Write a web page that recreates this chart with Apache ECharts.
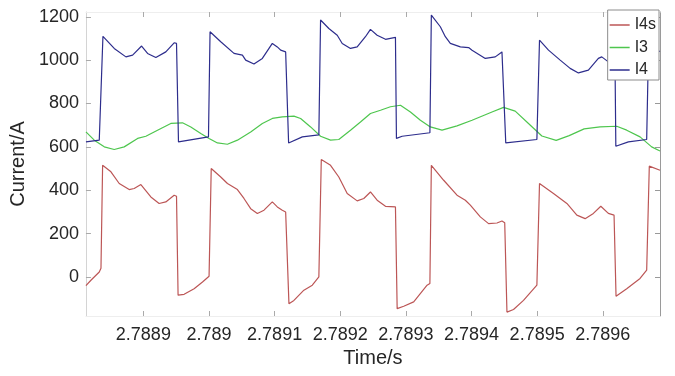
<!DOCTYPE html>
<html>
<head>
    <meta charset="utf-8">
    <title>Current</title>
    <script src="https://cdn.jsdelivr.net/npm/echarts@6/dist/echarts.min.js"></script>
    <style>
        html, body { margin: 0; padding: 0; background: #fff; }
        #chart { width: 675px; height: 376px; }
    </style>
</head>
<body>
<div id="chart"></div>
<script>
    // time (s), current (A)
    const i4s = [
        [2.7888125, -40], [2.7888201, -15], [2.7888328, 23], [2.7888354, 40], [2.7888379, 515], [2.7888395, 519],
        [2.7888506, 485], [2.7888632, 431], [2.7888784, 403], [2.7888860, 408], [2.7888962, 426], [2.7889114, 369],
        [2.7889240, 339], [2.7889342, 346], [2.7889469, 377], [2.7889505, 372], [2.7889529, -84], [2.7889621, -80],
        [2.7889773, -54], [2.7889901, -23], [2.7890001, 3], [2.7890034, 500], [2.7890057, 498], [2.7890179, 461],
        [2.7890281, 431], [2.7890433, 403], [2.7890533, 362], [2.7890635, 315], [2.7890737, 293], [2.7890838, 308],
        [2.7890965, 346], [2.7891041, 323], [2.7891117, 308], [2.7891168, 300], [2.7891198, 295], [2.7891218, -123],
        [2.7891294, -108], [2.7891446, -61], [2.7891574, -38], [2.7891674, 0], [2.7891711, 542], [2.7891723, 543],
        [2.7891852, 515], [2.7891978, 461], [2.7892106, 385], [2.7892258, 351], [2.7892359, 362], [2.7892460, 392],
        [2.7892562, 354], [2.7892689, 326], [2.7892841, 323], [2.7892867, -146], [2.7892967, -135], [2.7893119, -115],
        [2.7893323, -38], [2.7893366, -30], [2.7893388, 515], [2.7893399, 523], [2.7893576, 446], [2.7893779, 377],
        [2.7893906, 354], [2.7893982, 331], [2.7894134, 277], [2.7894260, 246], [2.7894388, 249], [2.7894464, 258],
        [2.7894506, 250], [2.7894540, -162], [2.7894640, -150], [2.7894792, -108], [2.7894996, -38], [2.7895024, -33],
        [2.7895036, 431], [2.7895046, 431], [2.7895249, 385], [2.7895453, 339], [2.7895605, 285], [2.7895731, 269],
        [2.7895857, 293], [2.7895970, 326], [2.7896085, 293], [2.7896172, 285], [2.7896202, -89], [2.7896365, -54],
        [2.7896568, -7], [2.7896669, 31], [2.7896709, 511], [2.7896720, 515], [2.7896872, 492]
    ];

    const i3 = [
        [2.7888125, 669], [2.7888252, 631], [2.7888404, 600], [2.7888556, 588], [2.7888708, 600], [2.7888912, 639],
        [2.7889038, 649], [2.7889216, 677], [2.7889418, 708], [2.7889596, 711], [2.7889723, 692], [2.7889875, 662],
        [2.7890001, 639], [2.7890129, 618], [2.7890281, 612], [2.7890433, 631], [2.7890635, 669], [2.7890813, 708],
        [2.7890965, 731], [2.7891117, 738], [2.7891294, 742], [2.7891396, 731], [2.7891548, 692], [2.7891700, 649],
        [2.7891852, 631], [2.7891978, 634], [2.7892156, 677], [2.7892308, 715], [2.7892460, 754], [2.7892613, 769],
        [2.7892765, 785], [2.7892917, 792], [2.7893069, 761], [2.7893221, 723], [2.7893373, 692], [2.7893551, 677],
        [2.7893779, 697], [2.7894008, 723], [2.7894312, 761], [2.7894488, 782], [2.7894666, 765], [2.7894868, 708],
        [2.7895072, 650], [2.7895290, 630], [2.7895488, 652], [2.7895716, 683], [2.7895959, 692], [2.7896213, 695],
        [2.7896365, 677], [2.7896568, 646], [2.7896745, 600], [2.7896872, 581]
    ];

    const i4 = [
        [2.7888125, 623], [2.7888328, 631], [2.7888354, 635], [2.7888384, 1110], [2.7888395, 1119], [2.7888556, 1054],
        [2.7888734, 1015], [2.7888836, 1023], [2.7888973, 1065], [2.7889064, 1031], [2.7889190, 1012], [2.7889342, 1038],
        [2.7889469, 1080], [2.7889505, 1077], [2.7889517, 1072], [2.7889535, 623], [2.7889992, 646], [2.7890016, 1131],
        [2.7890042, 1134], [2.7890179, 1085], [2.7890381, 1031], [2.7890509, 1023], [2.7890559, 1000], [2.7890685, 982],
        [2.7890813, 1008], [2.7890965, 1077], [2.7891041, 1061], [2.7891092, 1046], [2.7891168, 1038], [2.7891198, 1035],
        [2.7891213, 618], [2.7891422, 646], [2.7891674, 655], [2.7891700, 1185], [2.7891715, 1189], [2.7891826, 1146],
        [2.7891954, 1115], [2.7892030, 1077], [2.7892156, 1054], [2.7892258, 1061], [2.7892384, 1108], [2.7892460, 1142],
        [2.7892562, 1115], [2.7892689, 1096], [2.7892841, 1105], [2.7892856, 639], [2.7892943, 649], [2.7893366, 665],
        [2.7893388, 1208], [2.7893399, 1212], [2.7893525, 1154], [2.7893601, 1108], [2.7893677, 1077], [2.7893830, 1061],
        [2.7893956, 1058], [2.7894008, 1046], [2.7894210, 1008], [2.7894362, 1015], [2.7894464, 1038], [2.7894491, 1035],
        [2.7894522, 618], [2.7894996, 634], [2.7895036, 1092], [2.7895050, 1094], [2.7895173, 1046], [2.7895351, 1000],
        [2.7895503, 962], [2.7895629, 941], [2.7895781, 954], [2.7895933, 1008], [2.7895985, 1015], [2.7896085, 992],
        [2.7896187, 980], [2.7896199, 603], [2.7896390, 623], [2.7896669, 634], [2.7896697, 1060], [2.7896872, 1040]
    ];

    const xTicks = [2.7889, 2.789, 2.7891, 2.7892, 2.7893, 2.7894, 2.7895, 2.7896];
    const yTicks = [0, 200, 400, 600, 800, 1000, 1200];
    const seriesNames = ['I4s', 'I3', 'I4'];
    const seriesColors = ['#bc5656', '#4ec64e', '#2d2d8c'];

    const font = 'Liberation Sans, Arial, sans-serif';
    const textColor = '#262626';

    function tickAxis(extra) {
        return Object.assign({
            type: 'value',
            splitLine: { show: false },
            axisTick: { show: true, inside: true, length: 5, lineStyle: { color: '#aaa' } },
            axisLine: { show: true, onZero: false, lineStyle: { color: '#d4d4d4', width: 1 } }
        }, extra);
    }

    const chart = echarts.init(document.getElementById('chart'));
    chart.setOption({
        animation: false,
        backgroundColor: '#fff',
        textStyle: { fontFamily: font },
        grid: { left: 85, right: 15, top: 12, bottom: 60 },
        legend: {
            orient: 'vertical',
            right: 16,
            top: 10,
            padding: [6, 3, 1, 2],
            icon: 'rect',
            itemWidth: 20,
            itemHeight: 1.5,
            itemGap: 4.5,
            backgroundColor: '#fff',
            borderColor: '#8c8c8c',
            borderWidth: 1,
            borderRadius: 0,
            textStyle: { fontSize: 16, lineHeight: 18, color: textColor, fontFamily: font },
            data: seriesNames
        },
        xAxis: [
            tickAxis({
                min: 2.7888125,
                max: 2.7896872,
                name: 'Time/s',
                nameLocation: 'middle',
                nameGap: 32,
                nameTextStyle: { fontSize: 20, color: textColor, fontFamily: font },
                axisTick: { show: true, inside: true, length: 5, customValues: xTicks, lineStyle: { color: '#aaa' } },
                axisLabel: {
                    customValues: xTicks,
                    margin: 10,
                    fontSize: 18,
                    color: textColor,
                    fontFamily: font,
                    formatter: v => String(Number(v.toFixed(4)))
                },
                axisLine: { show: true, onZero: false, lineStyle: { color: '#eeeeee' } }
            }),
            tickAxis({
                position: 'top',
                min: 2.7888125,
                max: 2.7896872,
                axisTick: { show: true, inside: true, length: 5, customValues: xTicks, lineStyle: { color: '#aaa' } },
                axisLabel: { show: false },
                axisLine: { show: true, onZero: false, lineStyle: { color: '#eeeeee' } }
            })
        ],
        yAxis: [
            tickAxis({
                min: -180,
                max: 1222,
                name: 'Current/A',
                nameLocation: 'middle',
                nameGap: 52,
                nameTextStyle: { fontSize: 20, color: textColor, fontFamily: font },
                axisTick: { show: true, inside: true, length: 5, customValues: yTicks, lineStyle: { color: '#aaa' } },
                axisLabel: {
                    customValues: yTicks,
                    margin: 7,
                    fontSize: 18,
                    color: textColor,
                    fontFamily: font,
                    formatter: v => String(v)
                }
            }),
            tickAxis({
                position: 'right',
                min: -180,
                max: 1222,
                axisTick: { show: true, inside: true, length: 5, customValues: yTicks, lineStyle: { color: '#999' } },
                axisLabel: { show: false },
                axisLine: { show: true, onZero: false, lineStyle: { color: '#9a9a9a' } }
            })
        ],
        series: [i4s, i3, i4].map((d, i) => ({
            name: seriesNames[i],
            type: 'line',
            data: d,
            symbol: 'none',
            showSymbol: false,
            lineStyle: { width: 1.2, color: seriesColors[i] },
            itemStyle: { color: seriesColors[i] },
            z: 2
        }))
    });
</script>
</body>
</html>
